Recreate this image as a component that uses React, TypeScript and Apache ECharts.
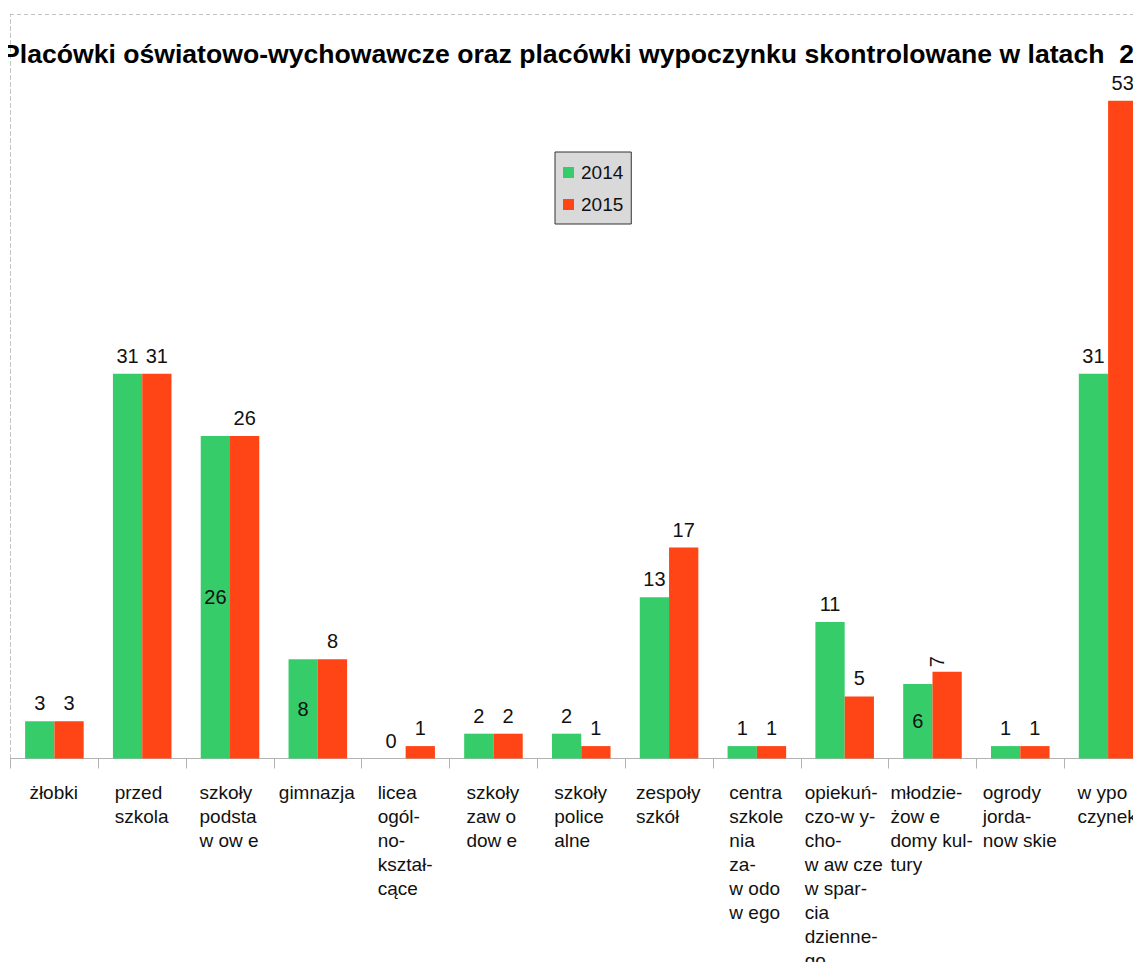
import React, { useEffect, useRef } from "react";
import * as echarts from "echarts";

const titleText =
  "Placówki oświatowo-wychowawcze oraz placówki wypoczynku skontrolowane w latach  2014 - 2015";
const categories = [
  "żłobki",
  "przed\nszkola",
  "szkoły\npodsta\nw ow e",
  "gimnazja",
  "licea\nogól-\nno-\nkształ-\ncące",
  "szkoły\nzaw o\ndow e",
  "szkoły\npolice\nalne",
  "zespoły\nszkół",
  "centra\nszkole\nnia\nza-\nw odo\nw ego",
  "opiekuń-\nczo-w y-\ncho-\nw aw cze\nw spar-\ncia\ndzienne-\ngo",
  "młodzie-\nżow e\ndomy kul-\ntury",
  "ogrody\njorda-\nnow skie",
  "w ypo\nczynek",
];
const seriesNames = ["2014", "2015"];
const values2014 = [3, 31, 26, 8, 0, 2, 2, 13, 1, 11, 6, 1, 31];
const values2015 = [3, 31, 26, 8, 1, 2, 1, 17, 1, 5, 7, 1, 53];

// label placement quirks (style, not data)
const inside2014 = [2, 3, 10];
const rotated2015 = [10];

const FONT = "'Liberation Sans', Arial, sans-serif";
const AX_FS = 19;

function measureWidths(): number[] {
  const c = document.createElement("canvas");
  const ctx = c.getContext("2d")!;
  ctx.font = `${AX_FS}px 'Liberation Sans'`;
  return categories.map((cat) =>
    Math.ceil(Math.max(...cat.split("\n").map((l) => ctx.measureText(l).width))) + 1
  );
}

export default function App() {
  const ref = useRef<HTMLDivElement>(null);
  useEffect(() => {
    if (!ref.current) return;
    const chart = echarts.init(ref.current, null, { renderer: "svg" });
    const widths = measureWidths();
    const rich: Record<string, any> = {};
    widths.forEach((w, i) => {
      rich["c" + i] = {
        width: w,
        align: "left",
        fontSize: AX_FS,
        lineHeight: 24,
        fontFamily: FONT,
        color: "#111",
      };
    });
    const valueLabel = {
      show: true,
      position: "top",
      distance: 8,
      fontSize: 20,
      fontFamily: FONT,
      color: "#111",
    };
    chart.setOption({
      animation: false,
      backgroundColor: "#fff",
      legend: {
        orient: "vertical",
        left: 555,
        top: 152,
        padding: [11, 8, 10, 8],
        itemWidth: 11,
        itemHeight: 11,
        itemGap: 13,
        icon: "rect",
        backgroundColor: "#d9d9d9",
        borderColor: "#333",
        borderWidth: 1,
        borderRadius: 0,
        textStyle: {
          fontFamily: FONT,
          fontSize: 19,
          color: "#111",
          padding: [0, 0, 0, 2],
        },
        data: seriesNames,
      },
      grid: {
        left: 10.5,
        top: 14,
        width: 1141.5,
        bottom: 208,
        containLabel: false,
      },
      xAxis: {
        type: "category",
        data: categories,
        boundaryGap: true,
        axisLine: { show: true, lineStyle: { color: "#b3b3b3", width: 1 } },
        axisTick: {
          show: true,
          length: 10,
          lineStyle: { color: "#b3b3b3" },
        },
        axisLabel: {
          interval: 0,
          margin: 22,
          align: "center",
          verticalAlign: "top",
          formatter: (v: string, idx: number) =>
            v
              .split("\n")
              .map((l) => `{c${idx}|${l}}`)
              .join("\n"),
          rich,
        },
      },
      yAxis: {
        type: "value",
        min: 0,
        max: 60,
        show: true,
        axisLine: {
          show: true,
          lineStyle: { color: "#c4c4c4", type: [4, 3] },
        },
        axisTick: { show: false },
        axisLabel: { show: false },
        splitLine: { show: false },
      },
      graphic: [
        {
          type: "line",
          shape: { x1: 10, y1: 14.5, x2: 1141, y2: 14.5 },
          style: { stroke: "#c4c4c4", lineWidth: 1, lineDash: [4, 3] },
          z: -1,
        },
        {
          type: "text",
          x: 2,
          y: 54,
          z: 10,
          style: {
            text: titleText,
            fontFamily: FONT,
            fontSize: 26.6,
            fontWeight: "bold",
            fill: "#000",
            textAlign: "left",
            textVerticalAlign: "middle",
          },
        },
      ],
      series: [
        {
          name: seriesNames[0],
          type: "bar",
          barGap: "0%",
          barCategoryGap: "33.3%",
          itemStyle: { color: "#36cc6a" },
          label: valueLabel,
          data: values2014.map((v, i) =>
            inside2014.includes(i)
              ? { value: v, label: { position: "inside" } }
              : v
          ),
        },
        {
          name: seriesNames[1],
          type: "bar",
          barGap: "0%",
          barCategoryGap: "33.3%",
          itemStyle: { color: "#ff4515" },
          label: valueLabel,
          data: values2015.map((v, i) =>
            rotated2015.includes(i)
              ? { value: v, label: { rotate: 90, distance: 10 } }
              : v
          ),
        },
      ],
    });
    return () => chart.dispose();
  }, []);
  return (
    <div style={{ width: 1141, height: 970, margin: -8, overflow: "hidden" }}>
      <div ref={ref} style={{ width: 1170, height: 970 }} />
    </div>
  );
}
